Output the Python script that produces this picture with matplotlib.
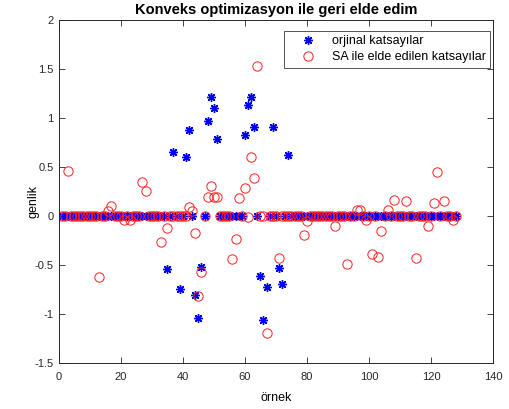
import numpy as np
import matplotlib
matplotlib.use('Agg')
import matplotlib.pyplot as plt

plt.rcParams['font.family'] = ['Liberation Sans', 'DejaVu Sans']

n = 128
# orjinal katsayilar (nonzero ones only, rest are 0)
orj_idx = [35, 37, 39, 41, 42, 44, 45, 46, 48, 49, 50, 51, 60, 61, 62, 63,
           65, 66, 67, 69, 71, 72, 74]
orj_val = [-0.54, 0.657, -0.74, 0.598, 0.874, -0.806, -1.04, -0.514, 0.969,
           1.213, 1.098, 0.787, 0.832, 1.13, 1.21, 0.909, -0.609, -1.061,
           -0.718, 0.906, -0.533, -0.688, 0.624]

# SA ile elde edilen katsayilar (nonzero ones only)
sa_idx = [3, 13, 16, 17, 21, 23, 27, 28, 33, 35, 42, 43, 44, 45, 46, 48, 49,
          50, 51, 56, 57, 58, 60, 61, 62, 63, 64, 67, 71, 79, 80, 89, 93, 96,
          97, 99, 101, 103, 104, 106, 108, 112, 115, 119, 121, 122, 124, 127]
sa_val = [0.464, -0.62, 0.05, 0.105, -0.04, -0.04, 0.349, 0.254, -0.263,
          -0.123, 0.095, 0.05, -0.17, -0.81, -0.57, 0.19, 0.31, 0.19, 0.19,
          -0.433, -0.23, 0.18, 0.285, -0.005, 0.6, 0.384, 1.528, -1.195, -0.43,
          -0.195, -0.049, -0.1, -0.484, 0.066, 0.066, -0.04, -0.382, -0.416,
          -0.15, 0.066, 0.16, 0.155, -0.426, -0.1, 0.135, 0.452, 0.155, -0.035]

x = np.arange(1, n + 1)
orj = np.zeros(n)
orj[np.array(orj_idx) - 1] = orj_val
sa = np.zeros(n)
sa[np.array(sa_idx) - 1] = sa_val

fig = plt.figure(figsize=(5.1, 4.09), dpi=100)
ax = fig.add_axes([0.115, 0.112, 0.852, 0.839])

ax.plot(x, orj, linestyle='none', marker=(8, 2, 0), color='#0000ff',
        markersize=6.3, markeredgewidth=1.0, label='orjinal katsayılar')
ax.plot(x, sa, linestyle='none', marker='o', markerfacecolor='none',
        markeredgecolor='#ff2020', markersize=6.7, markeredgewidth=0.7,
        label='SA ile elde edilen katsayılar')

ax.set_xlim(0, 140)
ax.set_ylim(-1.5, 2)
ax.set_xticks(range(0, 141, 20))
yt = [-1.5, -1, -0.5, 0, 0.5, 1, 1.5, 2]
ax.set_yticks(yt)
ax.set_yticklabels(['-1.5', '-1', '-0.5', '0', '0.5', '1', '1.5', '2'])
ax.tick_params(direction='in', top=True, right=True, labelsize=8,
               length=4, width=0.6, colors='#262626')
ax.tick_params(axis='x', pad=6)
for s in ax.spines.values():
    s.set_linewidth(0.7)
    s.set_color('#262626')

ax.set_title('Konveks optimizasyon ile geri elde edim', fontsize=10.5,
             fontweight='bold', pad=4)
ax.set_xlabel('örnek', fontsize=9)
ax.set_ylabel('genlik', fontsize=9)
ax.xaxis.set_label_coords(0.5, -0.084)
ax.yaxis.set_label_coords(-0.044, 0.47)

leg = ax.legend(loc='upper right', bbox_to_anchor=(0.9925, 0.968),
                borderaxespad=0, fontsize=9, fancybox=False, numpoints=1,
                handlelength=3.2, handletextpad=0.25, borderpad=0.35,
                labelspacing=0.3)
leg.get_frame().set_edgecolor('#262626')
leg.get_frame().set_linewidth(0.7)

fig.savefig('out.png', dpi=100)
